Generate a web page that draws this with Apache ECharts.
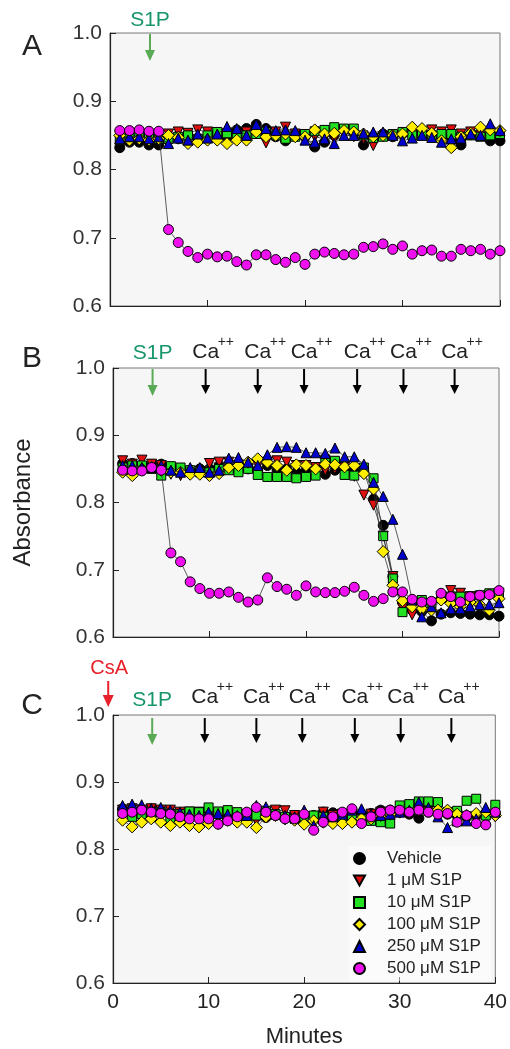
<!DOCTYPE html>
<html><head><meta charset="utf-8">
<script src="https://cdn.jsdelivr.net/npm/echarts@6/dist/echarts.min.js"></script>
<style>html,body{margin:0;padding:0;background:#fff}#c{width:510px;height:1049px}</style>
</head><body><div id="c"></div>
<script>
const minutes = [1,2,3,4,5,6,7,8,9,10,11,12,13,14,15,16,17,18,19,20,21,22,23,24,25,26,27,28,29,30,31,32,33,34,35,36,37,38,39,40];
const seriesNames = ['Vehicle','1 μM S1P','10 μM S1P','100 μM S1P','250 μM S1P','500 μM S1P'];
const yTicks = [0.6, 0.7, 0.8, 0.9, 1.0];
const xTicks = [0, 10, 20, 30, 40];

// Panel A
const A_vehicle = [0.832,0.840,0.840,0.836,0.836,0.843,0.845,0.848,0.845,0.848,0.852,0.848,0.858,0.860,0.866,0.860,0.848,0.842,0.852,0.848,0.833,0.840,0.850,0.858,0.853,0.836,0.846,0.852,0.848,0.852,0.852,0.855,0.850,0.848,0.843,0.836,0.851,0.852,0.842,0.842];
const A_1uM = [0.850,0.848,0.852,0.850,0.843,0.852,0.855,0.853,0.858,0.855,0.850,0.852,0.850,0.855,0.852,0.839,0.855,0.862,0.852,0.850,0.848,0.845,0.845,0.852,0.848,0.845,0.835,0.848,0.850,0.850,0.852,0.855,0.858,0.855,0.858,0.852,0.855,0.850,0.852,0.850];
const A_10uM = [0.843,0.850,0.848,0.846,0.845,0.845,0.848,0.850,0.845,0.850,0.855,0.853,0.848,0.850,0.852,0.855,0.850,0.845,0.848,0.852,0.856,0.858,0.862,0.860,0.860,0.850,0.846,0.848,0.852,0.855,0.850,0.852,0.850,0.852,0.852,0.848,0.850,0.848,0.850,0.852];
const A_100uM = [0.850,0.843,0.845,0.843,0.845,0.850,0.847,0.838,0.840,0.843,0.843,0.838,0.843,0.843,0.855,0.848,0.850,0.852,0.848,0.848,0.858,0.852,0.853,0.857,0.855,0.852,0.848,0.850,0.850,0.852,0.862,0.860,0.853,0.842,0.832,0.848,0.853,0.862,0.858,0.857];
const A_250uM = [0.845,0.848,0.848,0.845,0.848,0.838,0.846,0.843,0.852,0.846,0.852,0.863,0.860,0.850,0.866,0.860,0.857,0.858,0.857,0.843,0.840,0.845,0.838,0.850,0.850,0.853,0.855,0.855,0.850,0.842,0.846,0.850,0.847,0.840,0.845,0.846,0.852,0.850,0.867,0.857];
const A_500uM = [0.857,0.857,0.858,0.856,0.856,0.712,0.693,0.680,0.671,0.676,0.672,0.673,0.665,0.660,0.675,0.675,0.668,0.664,0.671,0.661,0.676,0.679,0.677,0.675,0.676,0.686,0.687,0.691,0.683,0.688,0.676,0.681,0.682,0.673,0.673,0.683,0.681,0.683,0.676,0.681];

// Panel B
const B_vehicle = [0.858,0.858,0.856,0.856,0.857,0.848,0.850,0.848,0.850,0.850,0.855,0.852,0.850,0.850,0.848,0.855,0.848,0.850,0.845,0.848,0.852,0.842,0.848,0.850,0.848,0.845,0.805,0.766,0.690,0.652,0.640,0.638,0.624,0.634,0.636,0.635,0.634,0.633,0.633,0.631];
const B_1uM = [0.862,0.857,0.863,0.857,0.855,0.842,0.840,0.843,0.845,0.858,0.860,0.860,0.855,0.850,0.855,0.860,0.862,0.860,0.855,0.855,0.852,0.848,0.850,0.852,0.839,0.811,0.796,0.750,0.690,0.643,0.633,0.645,0.650,0.660,0.669,0.665,0.660,0.660,0.662,0.665];
const B_10uM = [0.852,0.855,0.855,0.850,0.840,0.854,0.852,0.848,0.845,0.845,0.850,0.848,0.845,0.850,0.841,0.838,0.838,0.838,0.836,0.838,0.840,0.864,0.862,0.841,0.840,0.852,0.836,0.750,0.687,0.637,0.650,0.655,0.650,0.658,0.660,0.660,0.655,0.662,0.665,0.663];
const B_100uM = [0.845,0.840,0.850,0.852,0.848,0.845,0.845,0.842,0.842,0.840,0.843,0.852,0.855,0.860,0.865,0.860,0.855,0.848,0.856,0.855,0.850,0.857,0.856,0.853,0.855,0.843,0.820,0.727,0.677,0.654,0.645,0.642,0.640,0.655,0.650,0.645,0.652,0.648,0.640,0.657];
const B_250uM = [0.855,0.855,0.852,0.852,0.855,0.848,0.845,0.852,0.852,0.845,0.848,0.866,0.867,0.860,0.855,0.871,0.882,0.883,0.882,0.874,0.874,0.873,0.881,0.868,0.868,0.857,0.830,0.809,0.775,0.723,0.655,0.630,0.645,0.636,0.642,0.642,0.645,0.648,0.648,0.651];
const B_500uM = [0.848,0.847,0.847,0.852,0.848,0.725,0.712,0.682,0.672,0.665,0.665,0.667,0.659,0.652,0.655,0.688,0.675,0.671,0.662,0.676,0.667,0.666,0.666,0.668,0.674,0.662,0.653,0.657,0.667,0.667,0.656,0.652,0.653,0.665,0.660,0.652,0.660,0.662,0.663,0.669];

// Panel C
const C_vehicle = [0.860,0.858,0.858,0.860,0.858,0.855,0.853,0.852,0.853,0.852,0.852,0.850,0.850,0.850,0.848,0.847,0.850,0.848,0.850,0.850,0.850,0.855,0.854,0.853,0.850,0.852,0.853,0.858,0.858,0.855,0.852,0.846,0.855,0.855,0.852,0.850,0.848,0.850,0.850,0.852];
const C_1uM = [0.858,0.860,0.858,0.860,0.858,0.858,0.855,0.855,0.855,0.852,0.852,0.850,0.848,0.850,0.842,0.850,0.858,0.857,0.850,0.848,0.845,0.855,0.850,0.852,0.850,0.848,0.852,0.855,0.855,0.855,0.858,0.858,0.856,0.852,0.852,0.850,0.848,0.845,0.845,0.848];
const C_10uM = [0.855,0.848,0.852,0.852,0.855,0.845,0.852,0.856,0.855,0.862,0.856,0.858,0.855,0.852,0.850,0.857,0.852,0.848,0.845,0.848,0.850,0.848,0.845,0.848,0.848,0.845,0.842,0.840,0.838,0.865,0.867,0.871,0.871,0.870,0.855,0.857,0.872,0.875,0.850,0.866];
const C_100uM = [0.843,0.833,0.840,0.845,0.840,0.835,0.840,0.835,0.833,0.838,0.838,0.843,0.840,0.840,0.832,0.848,0.850,0.845,0.843,0.837,0.842,0.840,0.838,0.838,0.840,0.845,0.845,0.850,0.852,0.855,0.855,0.860,0.858,0.858,0.858,0.852,0.850,0.853,0.855,0.850];
const C_250uM = [0.865,0.867,0.866,0.860,0.862,0.858,0.855,0.852,0.850,0.855,0.853,0.852,0.850,0.850,0.865,0.863,0.852,0.850,0.848,0.858,0.835,0.850,0.848,0.852,0.858,0.860,0.852,0.850,0.852,0.855,0.858,0.870,0.862,0.848,0.832,0.842,0.842,0.845,0.862,0.855];
const C_500uM = [0.853,0.855,0.858,0.855,0.853,0.852,0.848,0.845,0.845,0.845,0.837,0.842,0.848,0.855,0.862,0.855,0.850,0.845,0.845,0.852,0.828,0.840,0.848,0.855,0.860,0.838,0.848,0.855,0.858,0.858,0.855,0.858,0.855,0.852,0.853,0.840,0.850,0.838,0.836,0.855];

// Annotations (minutes)
const s1pMinute = 4.1;
const csaMinute = -0.5;
const caMinutes = [9.6, 15.0, 19.8, 25.3, 30.1, 35.4];
const panelLetters = ['A', 'B', 'C'];

const panels = [
  [A_vehicle, A_1uM, A_10uM, A_100uM, A_250uM, A_500uM],
  [B_vehicle, B_1uM, B_10uM, B_100uM, B_250uM, B_500uM],
  [C_vehicle, C_1uM, C_10uM, C_100uM, C_250uM, C_500uM]
];

const FONT = '"Liberation Sans", Arial, Helvetica, sans-serif';
const colors = ['#000000', '#e01010', '#22e022', '#ffee00', '#0000cc', '#ee10ee'];
const downTri = 'path://M0,0L10,0L5,9Z';
const symbols = ['circle', downTri, 'rect', 'diamond', 'triangle', 'circle'];
const symSizes = [10, 10, 9, 12, 10, 10];

const grids = [
  {left: 110, top: 33, width: 390, height: 273},
  {left: 113, top: 368, width: 386, height: 269},
  {left: 113, top: 715, width: 386, height: 268}
].map(g => Object.assign(g, {show: true, backgroundColor: '#f6f6f6', borderColor: '#777', borderWidth: 1}));

const xAxes = [0,1,2].map(i => ({
  gridIndex: i, type: 'value', min: xTicks[0], max: xTicks[xTicks.length-1], interval: 10,
  axisLine: {show: true, onZero: false, lineStyle: {color: '#222', width: 1.2}},
  axisTick: {show: true, inside: true, length: 6, lineStyle: {color: '#222'}},
  axisLabel: {show: i === 2, fontSize: 21, color: '#222', margin: 9, fontFamily: FONT},
  splitLine: {show: false},
  name: i === 2 ? 'Minutes' : '', nameLocation: 'middle', nameGap: 43,
  nameTextStyle: {fontSize: 22, color: '#222', fontFamily: FONT}
}));
const yAxes = [0,1,2].map(i => ({
  gridIndex: i, type: 'value', min: yTicks[0], max: yTicks[yTicks.length-1], interval: 0.1,
  axisLine: {show: true, onZero: false, lineStyle: {color: '#222', width: 1.2}},
  axisTick: {show: true, inside: true, length: 6, lineStyle: {color: '#222'}},
  axisLabel: {fontSize: 21, color: '#333', margin: 8, fontFamily: FONT, formatter: v => v.toFixed(1)},
  splitLine: {show: false},
  name: i === 1 ? 'Absorbance' : '', nameLocation: 'middle', nameGap: 78, nameRotate: 90,
  nameTextStyle: {fontSize: 24, color: '#222', fontFamily: FONT}
}));

const series = [];
panels.forEach((p, pi) => {
  p.forEach((vals, si) => {
    series.push({
      type: 'line', name: seriesNames[si], xAxisIndex: pi, yAxisIndex: pi,
      data: minutes.map((m, k) => [m, vals[k]]),
      symbol: symbols[si], symbolSize: symSizes[si],
      itemStyle: {color: colors[si], borderColor: '#000', borderWidth: 1},
      lineStyle: {color: '#333', width: 0.8},
      emphasis: {disabled: true}, silent: true, z: 2 + si, clip: false
    });
  });
});

const chart = echarts.init(document.getElementById('c'), null, {renderer: 'canvas'});
chart.setOption({
  animation: false,
  backgroundColor: '#ffffff',
  textStyle: {fontFamily: FONT},
  grid: grids, xAxis: xAxes, yAxis: yAxes, series: series,
  legend: {
    data: seriesNames.map((n, k) => ({name: n, icon: symbols[k]})),
    orient: 'vertical', left: 349, top: 846, itemWidth: 11, itemHeight: 11, itemGap: 5,
    textStyle: {fontSize: 17, color: '#222', lineHeight: 17, fontFamily: FONT, padding: [0, 0, 0, 17]},
    selectedMode: false, backgroundColor: 'rgba(255,255,255,0.5)', padding: [4, 10, 4, 4]
  }
});

function arrow(x, y0, y1, color, hw, hl, lw) {
  return [
    {type: 'line', shape: {x1: x, y1: y0, x2: x, y2: y1 - hl + 1}, style: {stroke: color, lineWidth: lw}, z: 50},
    {type: 'polygon', shape: {points: [[x - hw/2, y1 - hl], [x + hw/2, y1 - hl], [x, y1]]}, style: {fill: color}, z: 50}
  ];
}
function text(t, x, y, size, color, align) {
  return {type: 'text', x: x, y: y, z: 50,
    style: {text: t, font: size + 'px ' + FONT, fill: color,
      align: align || 'center', verticalAlign: 'middle', textAlign: align || 'center', textVerticalAlign: 'middle'}};
}

const g = [];
const S1P_TEXT = '#17966a', S1P_ARROW = '#5aaa55';
for (let i = 0; i < 3; i++) {
  const top = chart.convertToPixel({gridIndex: i}, [0, yTicks[yTicks.length-1]])[1];
  const sx = chart.convertToPixel({gridIndex: i}, [s1pMinute, 1.0])[0];
  const off = i === 2 ? 3 : 1;
  g.push(...arrow(sx, top + off, top + off + 27, S1P_ARROW, 10, 11, 2));
  g.push(text('S1P', sx, top - (i === 0 ? 13 : 14.5), 21, S1P_TEXT));
  g.push(text(panelLetters[i], 32, i === 0 ? top + 14 : top - 9, 30, '#222'));
  if (i > 0) {
    caMinutes.forEach(m => {
      const cx = chart.convertToPixel({gridIndex: i}, [m, 1.0])[0];
      g.push(...arrow(cx, top + off, top + off + 25, '#000', 9, 9, 2));
      const cy = top - (i === 1 ? 15.5 : 17.5);
      g.push(text('Ca', cx, cy, 21, '#222'));
      g.push(text('++', cx + 12, cy - 10, 14, '#222', 'left'));
    });
  }
  if (i === 2) {
    const cx = chart.convertToPixel({gridIndex: i}, [csaMinute, 1.0])[0];
    g.push(...arrow(cx, top - 34, top - 8, '#e8202a', 11, 12, 2));
    g.push(text('CsA', cx + 1, top - 47, 20, '#e8202a'));
  }
}
chart.setOption({graphic: {elements: g}});
</script></body></html>
